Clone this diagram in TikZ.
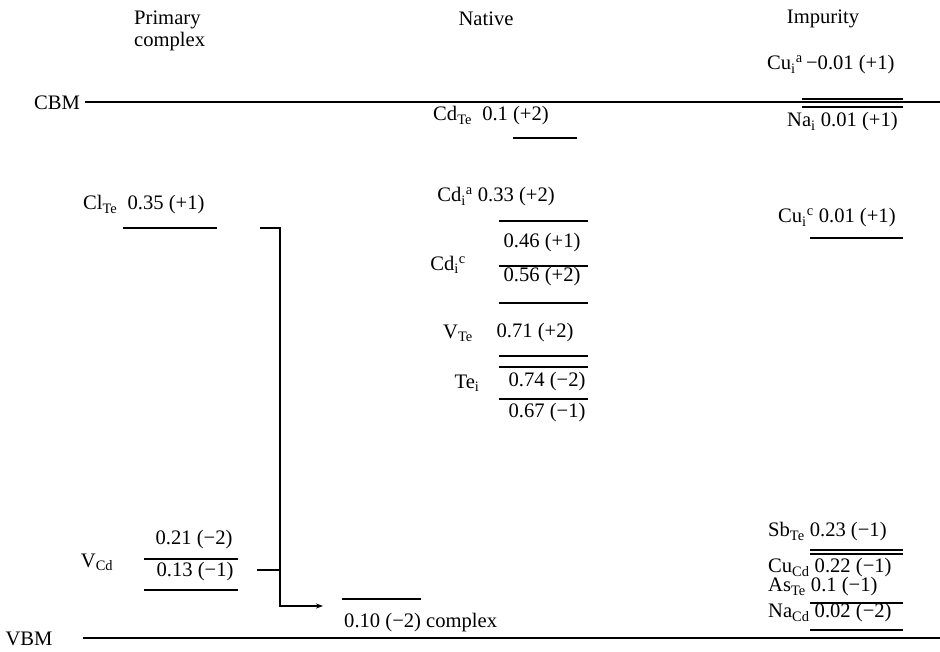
\documentclass[tikz,border=0pt]{standalone}
\usepackage{fontspec}
\setmainfont{Liberation Serif}
\usetikzlibrary{arrows.meta}
\newcommand{\sbs}[1]{\textsubscript{#1}}
\newcommand{\sps}[1]{\textsuperscript{#1}}
\begin{document}
\begin{tikzpicture}[x=1pt,y=-1pt,
  txt/.style={inner sep=0pt,font=\fontsize{20.6}{22}\selectfont},
  lvl/.style={line width=1.1pt},
  band/.style={line width=1.3pt},
  conn/.style={line width=1.1pt}]
\useasboundingbox (0,0) rectangle (940,651);
\fill[white] (0,0) rectangle (940,651);
% headers
\node[txt,anchor=west,align=left] (hprim) at (134,31) {Primary\\complex};
\node[txt] (hnat) at (486,19) {Native};
\node[txt] (himp) at (823,19) {Impurity};
% bands
\node[txt] (cbm) at (57,103) {CBM};
\coordinate (cbmL) at (85,102);
\coordinate (cbmR) at (940,102);
\draw[band] (cbmL) -- (cbmR);
\node[txt] (vbm) at (29,639) {VBM};
\coordinate (vbmL) at (83,638);
\coordinate (vbmR) at (940,638);
\draw[band] (vbmL) -- (vbmR);
% impurity top
\node[txt,anchor=west] (cuia) at (767,65) {Cu\sbs{i}\sps{a}\,−0.01 (+1)};
\draw[lvl] (802,99) coordinate (cuaL) -- (903,99) coordinate (cuaR);
\draw[lvl] (802,107) coordinate (naL) -- (903,107) coordinate (naR);
\node[txt,anchor=west] (nai) at (787,122) {Na\sbs{i} 0.01 (+1)};
\node[txt,anchor=west] (cuic) at (778,218) {Cu\sbs{i}\sps{c} 0.01 (+1)};
\draw[lvl] (810,238) coordinate (cucL) -- (903,238) coordinate (cucR);
% impurity bottom
\node[txt,anchor=west] (sbte) at (768,532) {Sb\sbs{Te} 0.23 (−1)};
\draw[lvl] (810,550) coordinate (sb1L) -- (903,550) coordinate (sb1R);
\draw[lvl] (810,554) coordinate (sb2L) -- (903,554) coordinate (sb2R);
\node[txt,anchor=west] (cucd) at (768,568) {Cu\sbs{Cd} 0.22 (−1)};
\node[txt,anchor=west] (aste) at (768,587) {As\sbs{Te} 0.1 (−1)};
\draw[lvl] (810,603) coordinate (asL) -- (903,603) coordinate (asR);
\node[txt,anchor=west] (nacd) at (768,613) {Na\sbs{Cd} 0.02 (−2)};
\draw[lvl] (810,630) coordinate (ncL) -- (903,630) coordinate (ncR);
% native
\node[txt] (cdte) at (491,116) {Cd\sbs{Te}\ \ 0.1 (+2)};
\draw[lvl] (513,138) coordinate (cdteL) -- (577,138) coordinate (cdteR);
\node[txt] (cdia) at (496,197) {Cd\sbs{i}\sps{a}\ 0.33 (+2)};
\draw[lvl] (499,221) coordinate (n1L) -- (588,221) coordinate (n1R);
\node[txt] (v046) at (542,243) {0.46 (+1)};
\draw[lvl] (499,266) coordinate (n2L) -- (588,266) coordinate (n2R);
\node[txt] (v056) at (542,277) {0.56 (+2)};
\node[txt] (cdic) at (448,265) {Cd\sbs{i}\sps{c}};
\draw[lvl] (499,303) coordinate (n3L) -- (588,303) coordinate (n3R);
\node[txt] (vte) at (458,333) {V\sbs{Te}};
\node[txt] (v071) at (535,333) {0.71 (+2)};
\draw[lvl] (499,356) coordinate (n4L) -- (588,356) coordinate (n4R);
\draw[lvl] (499,367) coordinate (n5L) -- (588,367) coordinate (n5R);
\node[txt] (tei) at (467,383) {Te\sbs{i}};
\node[txt] (v074) at (547,382) {0.74 (−2)};
\draw[lvl] (499,399) coordinate (n6L) -- (588,399) coordinate (n6R);
\node[txt] (v067) at (547,413) {0.67 (−1)};
% primary complex
\node[txt,anchor=west] (clte) at (83,205) {Cl\sbs{Te}\ \ 0.35 (+1)};
\draw[lvl] (123,228) coordinate (clL) -- (217,228) coordinate (clR);
\node[txt] (vcd) at (97,562) {V\sbs{Cd}};
\node[txt] (v021) at (194,540) {0.21 (−2)};
\draw[lvl] (144,559) coordinate (vc1L) -- (238,559) coordinate (vc1R);
\node[txt] (v013) at (195,572) {0.13 (−1)};
\draw[lvl] (144,590) coordinate (vc2L) -- (238,590) coordinate (vc2R);
\node[txt,anchor=west] (cplx) at (344,623) {0.10 (−2) complex};
\draw[lvl] (342,599) coordinate (cxL) -- (421,599) coordinate (cxR);
% connectors
\coordinate (clStart) at (260,228);
\coordinate (jTop) at (280,228);
\coordinate (jBot) at (280,606);
\coordinate (arrEnd) at (323,606);
\coordinate (vcStart) at (257,570);
\coordinate (jMid) at (280,570);
\draw[conn,-{Stealth[length=7pt,width=5pt]}] (clStart) -- (jTop) -- (jBot) -- (arrEnd);
\draw[conn] (vcStart) -- (jMid);
\end{tikzpicture}
\end{document}
